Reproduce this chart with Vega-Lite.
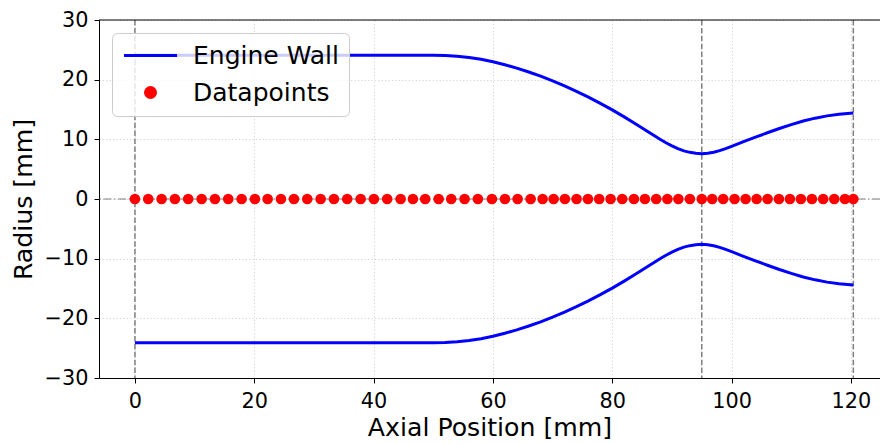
{
  "$schema": "https://vega.github.io/schema/vega-lite/v6.json",
  "width": 781,
  "height": 358,
  "autosize": {"type": "none"},
  "padding": {"left": 99, "top": 20, "right": 0, "bottom": 65},
  "background": "white",
  "config": {"view": {"stroke": null}, "font": "DejaVu Sans"},
  "datasets": {
    "wall": [
      {"x": 0, "r": 24.1, "side": "upper", "series": "Engine Wall"},
      {"x": 50, "r": 24.1, "side": "upper", "series": "Engine Wall"},
      {"x": 52, "r": 24.06, "side": "upper", "series": "Engine Wall"},
      {"x": 54, "r": 23.93, "side": "upper", "series": "Engine Wall"},
      {"x": 56, "r": 23.72, "side": "upper", "series": "Engine Wall"},
      {"x": 58, "r": 23.41, "side": "upper", "series": "Engine Wall"},
      {"x": 60, "r": 23.0, "side": "upper", "series": "Engine Wall"},
      {"x": 62, "r": 22.5, "side": "upper", "series": "Engine Wall"},
      {"x": 64, "r": 21.93, "side": "upper", "series": "Engine Wall"},
      {"x": 66, "r": 21.29, "side": "upper", "series": "Engine Wall"},
      {"x": 68, "r": 20.58, "side": "upper", "series": "Engine Wall"},
      {"x": 70, "r": 19.8, "side": "upper", "series": "Engine Wall"},
      {"x": 72, "r": 18.96, "side": "upper", "series": "Engine Wall"},
      {"x": 74, "r": 18.05, "side": "upper", "series": "Engine Wall"},
      {"x": 76, "r": 17.07, "side": "upper", "series": "Engine Wall"},
      {"x": 78, "r": 16.03, "side": "upper", "series": "Engine Wall"},
      {"x": 80, "r": 14.93, "side": "upper", "series": "Engine Wall"},
      {"x": 82, "r": 13.76, "side": "upper", "series": "Engine Wall"},
      {"x": 84, "r": 12.53, "side": "upper", "series": "Engine Wall"},
      {"x": 86, "r": 11.26, "side": "upper", "series": "Engine Wall"},
      {"x": 88, "r": 10.01, "side": "upper", "series": "Engine Wall"},
      {"x": 89, "r": 9.43, "side": "upper", "series": "Engine Wall"},
      {"x": 90, "r": 8.91, "side": "upper", "series": "Engine Wall"},
      {"x": 91, "r": 8.43, "side": "upper", "series": "Engine Wall"},
      {"x": 92, "r": 8.07, "side": "upper", "series": "Engine Wall"},
      {"x": 93, "r": 7.82, "side": "upper", "series": "Engine Wall"},
      {"x": 94, "r": 7.66, "side": "upper", "series": "Engine Wall"},
      {"x": 95, "r": 7.6, "side": "upper", "series": "Engine Wall"},
      {"x": 96, "r": 7.66, "side": "upper", "series": "Engine Wall"},
      {"x": 97, "r": 7.83, "side": "upper", "series": "Engine Wall"},
      {"x": 98, "r": 8.1, "side": "upper", "series": "Engine Wall"},
      {"x": 99, "r": 8.44, "side": "upper", "series": "Engine Wall"},
      {"x": 100, "r": 8.82, "side": "upper", "series": "Engine Wall"},
      {"x": 102, "r": 9.6, "side": "upper", "series": "Engine Wall"},
      {"x": 104, "r": 10.36, "side": "upper", "series": "Engine Wall"},
      {"x": 106, "r": 11.1, "side": "upper", "series": "Engine Wall"},
      {"x": 108, "r": 11.81, "side": "upper", "series": "Engine Wall"},
      {"x": 110, "r": 12.47, "side": "upper", "series": "Engine Wall"},
      {"x": 112, "r": 13.07, "side": "upper", "series": "Engine Wall"},
      {"x": 114, "r": 13.55, "side": "upper", "series": "Engine Wall"},
      {"x": 116, "r": 13.93, "side": "upper", "series": "Engine Wall"},
      {"x": 118, "r": 14.21, "side": "upper", "series": "Engine Wall"},
      {"x": 120.4, "r": 14.43, "side": "upper", "series": "Engine Wall"},
      {"x": 0, "r": -24.1, "side": "lower", "series": "Engine Wall"},
      {"x": 50, "r": -24.1, "side": "lower", "series": "Engine Wall"},
      {"x": 52, "r": -24.06, "side": "lower", "series": "Engine Wall"},
      {"x": 54, "r": -23.93, "side": "lower", "series": "Engine Wall"},
      {"x": 56, "r": -23.72, "side": "lower", "series": "Engine Wall"},
      {"x": 58, "r": -23.41, "side": "lower", "series": "Engine Wall"},
      {"x": 60, "r": -23.0, "side": "lower", "series": "Engine Wall"},
      {"x": 62, "r": -22.5, "side": "lower", "series": "Engine Wall"},
      {"x": 64, "r": -21.93, "side": "lower", "series": "Engine Wall"},
      {"x": 66, "r": -21.29, "side": "lower", "series": "Engine Wall"},
      {"x": 68, "r": -20.58, "side": "lower", "series": "Engine Wall"},
      {"x": 70, "r": -19.8, "side": "lower", "series": "Engine Wall"},
      {"x": 72, "r": -18.96, "side": "lower", "series": "Engine Wall"},
      {"x": 74, "r": -18.05, "side": "lower", "series": "Engine Wall"},
      {"x": 76, "r": -17.07, "side": "lower", "series": "Engine Wall"},
      {"x": 78, "r": -16.03, "side": "lower", "series": "Engine Wall"},
      {"x": 80, "r": -14.93, "side": "lower", "series": "Engine Wall"},
      {"x": 82, "r": -13.76, "side": "lower", "series": "Engine Wall"},
      {"x": 84, "r": -12.53, "side": "lower", "series": "Engine Wall"},
      {"x": 86, "r": -11.26, "side": "lower", "series": "Engine Wall"},
      {"x": 88, "r": -10.01, "side": "lower", "series": "Engine Wall"},
      {"x": 89, "r": -9.43, "side": "lower", "series": "Engine Wall"},
      {"x": 90, "r": -8.91, "side": "lower", "series": "Engine Wall"},
      {"x": 91, "r": -8.43, "side": "lower", "series": "Engine Wall"},
      {"x": 92, "r": -8.07, "side": "lower", "series": "Engine Wall"},
      {"x": 93, "r": -7.82, "side": "lower", "series": "Engine Wall"},
      {"x": 94, "r": -7.66, "side": "lower", "series": "Engine Wall"},
      {"x": 95, "r": -7.6, "side": "lower", "series": "Engine Wall"},
      {"x": 96, "r": -7.66, "side": "lower", "series": "Engine Wall"},
      {"x": 97, "r": -7.83, "side": "lower", "series": "Engine Wall"},
      {"x": 98, "r": -8.1, "side": "lower", "series": "Engine Wall"},
      {"x": 99, "r": -8.44, "side": "lower", "series": "Engine Wall"},
      {"x": 100, "r": -8.82, "side": "lower", "series": "Engine Wall"},
      {"x": 102, "r": -9.6, "side": "lower", "series": "Engine Wall"},
      {"x": 104, "r": -10.36, "side": "lower", "series": "Engine Wall"},
      {"x": 106, "r": -11.1, "side": "lower", "series": "Engine Wall"},
      {"x": 108, "r": -11.81, "side": "lower", "series": "Engine Wall"},
      {"x": 110, "r": -12.47, "side": "lower", "series": "Engine Wall"},
      {"x": 112, "r": -13.07, "side": "lower", "series": "Engine Wall"},
      {"x": 114, "r": -13.55, "side": "lower", "series": "Engine Wall"},
      {"x": 116, "r": -13.93, "side": "lower", "series": "Engine Wall"},
      {"x": 118, "r": -14.21, "side": "lower", "series": "Engine Wall"},
      {"x": 120.4, "r": -14.43, "side": "lower", "series": "Engine Wall"}
    ],
    "points": [
      {"x": 0, "r": 0, "series": "Datapoints"},
      {"x": 2.23, "r": 0, "series": "Datapoints"},
      {"x": 4.47, "r": 0, "series": "Datapoints"},
      {"x": 6.70, "r": 0, "series": "Datapoints"},
      {"x": 8.93, "r": 0, "series": "Datapoints"},
      {"x": 11.18, "r": 0, "series": "Datapoints"},
      {"x": 13.41, "r": 0, "series": "Datapoints"},
      {"x": 15.64, "r": 0, "series": "Datapoints"},
      {"x": 17.88, "r": 0, "series": "Datapoints"},
      {"x": 20.11, "r": 0, "series": "Datapoints"},
      {"x": 22.24, "r": 0, "series": "Datapoints"},
      {"x": 24.47, "r": 0, "series": "Datapoints"},
      {"x": 26.65, "r": 0, "series": "Datapoints"},
      {"x": 28.88, "r": 0, "series": "Datapoints"},
      {"x": 31.12, "r": 0, "series": "Datapoints"},
      {"x": 33.35, "r": 0, "series": "Datapoints"},
      {"x": 35.58, "r": 0, "series": "Datapoints"},
      {"x": 37.83, "r": 0, "series": "Datapoints"},
      {"x": 40.05, "r": 0, "series": "Datapoints"},
      {"x": 42.28, "r": 0, "series": "Datapoints"},
      {"x": 44.53, "r": 0, "series": "Datapoints"},
      {"x": 46.59, "r": 0, "series": "Datapoints"},
      {"x": 48.65, "r": 0, "series": "Datapoints"},
      {"x": 50.90, "r": 0, "series": "Datapoints"},
      {"x": 53.01, "r": 0, "series": "Datapoints"},
      {"x": 55.25, "r": 0, "series": "Datapoints"},
      {"x": 57.48, "r": 0, "series": "Datapoints"},
      {"x": 59.83, "r": 0, "series": "Datapoints"},
      {"x": 62.01, "r": 0, "series": "Datapoints"},
      {"x": 64.14, "r": 0, "series": "Datapoints"},
      {"x": 66.32, "r": 0, "series": "Datapoints"},
      {"x": 68.33, "r": 0, "series": "Datapoints"},
      {"x": 70.17, "r": 0, "series": "Datapoints"},
      {"x": 72.06, "r": 0, "series": "Datapoints"},
      {"x": 74.02, "r": 0, "series": "Datapoints"},
      {"x": 75.92, "r": 0, "series": "Datapoints"},
      {"x": 77.81, "r": 0, "series": "Datapoints"},
      {"x": 79.72, "r": 0, "series": "Datapoints"},
      {"x": 81.67, "r": 0, "series": "Datapoints"},
      {"x": 83.63, "r": 0, "series": "Datapoints"},
      {"x": 85.47, "r": 0, "series": "Datapoints"},
      {"x": 87.36, "r": 0, "series": "Datapoints"},
      {"x": 89.24, "r": 0, "series": "Datapoints"},
      {"x": 91.08, "r": 0, "series": "Datapoints"},
      {"x": 93.01, "r": 0, "series": "Datapoints"},
      {"x": 95.0, "r": 0, "series": "Datapoints"},
      {"x": 96.75, "r": 0, "series": "Datapoints"},
      {"x": 98.59, "r": 0, "series": "Datapoints"},
      {"x": 100.50, "r": 0, "series": "Datapoints"},
      {"x": 102.35, "r": 0, "series": "Datapoints"},
      {"x": 104.19, "r": 0, "series": "Datapoints"},
      {"x": 106.03, "r": 0, "series": "Datapoints"},
      {"x": 107.93, "r": 0, "series": "Datapoints"},
      {"x": 109.77, "r": 0, "series": "Datapoints"},
      {"x": 111.61, "r": 0, "series": "Datapoints"},
      {"x": 113.46, "r": 0, "series": "Datapoints"},
      {"x": 115.35, "r": 0, "series": "Datapoints"},
      {"x": 117.20, "r": 0, "series": "Datapoints"},
      {"x": 118.99, "r": 0, "series": "Datapoints"},
      {"x": 120.4, "r": 0, "series": "Datapoints"}
    ],
    "vlines": [{"x": 0}, {"x": 95.0}, {"x": 120.4}],
    "hlines": [{"r": 0}],
    "spine": [{"r": 30}]
  },
  "layer": [
    {
      "data": {"name": "vlines"},
      "mark": {"type": "rule", "color": "#7f7f7f", "strokeWidth": 1.5, "strokeDash": [5.5, 2.4]},
      "encoding": {
        "x": {"field": "x", "type": "quantitative", "scale": {"domain": [-6.02, 124.87], "nice": false, "zero": false}, "title": "Axial Position [mm]"}
      }
    },
    {
      "data": {"name": "hlines"},
      "mark": {"type": "rule", "color": "#7f7f7f", "strokeWidth": 1.2, "strokeDash": [8, 2.5, 1.5, 2.5]},
      "encoding": {
        "y": {"field": "r", "type": "quantitative", "scale": {"domain": [-30, 30], "nice": false, "zero": false}, "title": "Radius [mm]"}
      }
    },
    {
      "data": {"name": "spine"},
      "mark": {"type": "rule", "color": "black", "strokeWidth": 1},
      "encoding": {
        "y": {"field": "r", "type": "quantitative", "scale": {"domain": [-30, 30], "nice": false, "zero": false}, "title": "Radius [mm]"}
      }
    },
    {
      "data": {"name": "wall"},
      "mark": {"type": "line", "strokeWidth": 3},
      "encoding": {
        "x": {
          "field": "x", "type": "quantitative",
          "scale": {"domain": [-6.02, 124.87], "nice": false, "zero": false},
          "title": "Axial Position [mm]",
          "axis": {
            "values": [0, 20, 40, 60, 80, 100, 120], "format": "d",
            "grid": true, "gridColor": "#b0b0b0", "gridOpacity": 0.7, "gridDash": [1.2, 2.2], "gridWidth": 0.8,
            "domain": true, "domainColor": "black", "domainWidth": 1,
            "ticks": true, "tickColor": "black", "tickSize": 5, "tickWidth": 1,
            "labelFont": "DejaVu Sans", "labelFontSize": 20.8, "labelColor": "black", "labelPadding": 8,
            "labelFlush": false, "labelOverlap": false,
            "titleFont": "DejaVu Sans", "titleFontSize": 25.2, "titleFontWeight": "normal", "titleColor": "black", "titlePadding": 5
          }
        },
        "y": {
          "field": "r", "type": "quantitative",
          "scale": {"domain": [-30, 30], "nice": false, "zero": false},
          "title": "Radius [mm]",
          "axis": {
            "values": [-30, -20, -10, 0, 10, 20, 30], "format": "d",
            "grid": true, "gridColor": "#b0b0b0", "gridOpacity": 0.7, "gridDash": [1.2, 2.2], "gridWidth": 0.8,
            "domain": true, "domainColor": "black", "domainWidth": 1,
            "ticks": true, "tickColor": "black", "tickSize": 5, "tickWidth": 1,
            "labelFont": "DejaVu Sans", "labelFontSize": 20.8, "labelColor": "black", "labelPadding": 6,
            "labelFlush": false, "labelOverlap": false,
            "titleFont": "DejaVu Sans", "titleFontSize": 25.2, "titleFontWeight": "normal", "titleColor": "black", "titlePadding": 8
          }
        },
        "detail": {"field": "side"},
        "color": {
          "field": "series", "type": "nominal",
          "scale": {"domain": ["Engine Wall", "Datapoints"], "range": ["#0000ff", "#ff0000"]},
          "legend": {
            "title": null, "orient": "top-left", "offset": 13, "padding": 10,
            "fillColor": "rgba(255,255,255,0.8)", "strokeColor": "#cccccc", "cornerRadius": 5,
            "labelFont": "DejaVu Sans", "labelFontSize": 25, "labelColor": "black",
            "symbolSize": 400, "symbolOffset": 16, "labelOffset": 30, "rowPadding": 11,
            "symbolStrokeWidth": 3,
            "encode": {
              "symbols": {
                "update": {
                  "shape": {"signal": "datum.value === 'Engine Wall' ? 'stroke' : 'circle'"},
                  "size": {"signal": "datum.value === 'Engine Wall' ? 2809 : 100"},
                  "fill": {"signal": "datum.value === 'Engine Wall' ? 'transparent' : '#ff0000'"},
                  "stroke": {"signal": "datum.value === 'Engine Wall' ? '#0000ff' : 'transparent'"},
                  "strokeWidth": {"value": 3},
                  "opacity": {"value": 1}
                }
              }
            }
          }
        }
      }
    },
    {
      "data": {"name": "points"},
      "mark": {"type": "point", "filled": true, "size": 113, "opacity": 1},
      "encoding": {
        "x": {"field": "x", "type": "quantitative", "scale": {"domain": [-6.02, 124.87], "nice": false, "zero": false}, "title": "Axial Position [mm]"},
        "y": {"field": "r", "type": "quantitative", "scale": {"domain": [-30, 30], "nice": false, "zero": false}, "title": "Radius [mm]"},
        "color": {"field": "series", "type": "nominal"}
      }
    }
  ]
}
